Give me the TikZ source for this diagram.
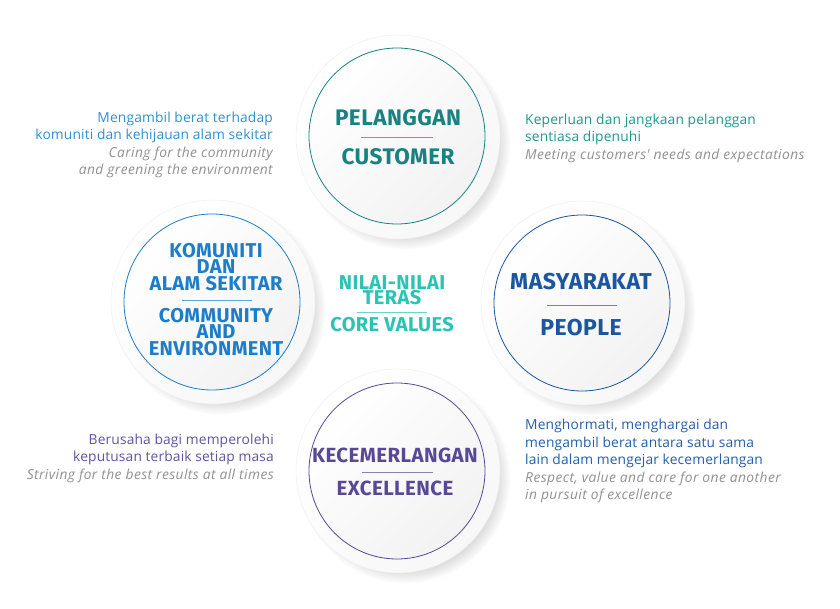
\documentclass[tikz,border=0pt]{standalone}
\usepackage{fontspec}
\usepackage{tikz}
\usetikzlibrary{positioning,shadows}
\newfontfamily\headfont[LetterSpace=2]{Fira Sans}
\newfontfamily\descfont[LetterSpace=1]{Open Sans}

\definecolor{pelC}{RGB}{24,130,130}
\definecolor{pelD}{RGB}{30,150,145}
\definecolor{komC}{RGB}{30,125,200}
\definecolor{komD}{RGB}{45,145,210}
\definecolor{masC}{RGB}{28,85,160}
\definecolor{masD}{RGB}{35,95,170}
\definecolor{kecC}{RGB}{88,72,150}
\definecolor{kecD}{RGB}{98,82,162}
\definecolor{coreC}{RGB}{45,195,180}
\definecolor{greyT}{RGB}{145,145,145}

\newcommand{\eng}[1]{\textcolor{greyT}{\itshape\addfontfeatures{LetterSpace=3}#1}}

\tikzset{
  disc/.style={circle, minimum size=204pt, draw=black!7, top color=white, bottom color=black!3,
    shading angle=45, circular drop shadow={shadow xshift=7pt, shadow yshift=-7pt,
    shadow scale=1.03, fill=black!45, opacity=0.35}},
  ring/.style={circle, minimum size=176pt, draw=#1, line width=0.8pt,
    top color=white, bottom color=black!5, shading angle=45},
  head/.style={text=#1, align=center, inner sep=0pt,
    font=\headfont\bfseries\fontsize{22.5}{16}\selectfont},
  desc/.style={text=#1, inner sep=0pt, font=\descfont\fontsize{13.8}{17.5}\selectfont}
}

\begin{document}
\begin{tikzpicture}[x=1pt, y=-1pt]
      \useasboundingbox[fill=white] (0,0) rectangle (840,609);

      % Kreise
      \node[disc] (pelO) at (398,137) {};
      \node[disc] (komO) at (213,302) {};
      \node[disc] (masO) at (583,303) {};
      \node[disc] (kecO) at (398,471) {};
      \node[ring=pelC] (pel) at (397,136) {};
      \node[ring=komC] (kom) at (212,302) {};
      \node[ring=masC] (mas) at (582,303) {};
      \node[ring=kecC] (kec) at (397,471) {};

      % Pelanggan
      \node[head=pelC] (pelA) at (398,118) {PELANGGAN};
      \draw[pelC!70, line width=0.6pt] (pel.center) ++(-36,1) -- ++(72,0);
      \node[head=pelC] (pelB) at (398,157) {CUSTOMER};

      % Komuniti
      \node[head=komC, font=\headfont\bfseries\fontsize{20}{16.5}\selectfont] (komA) at (216,267)
            {KOMUNITI\\DAN\\ALAM SEKITAR};
      \draw[komC!70, line width=0.6pt] (kom.center) ++(-30,-2) -- ++(70,0);
      \node[head=komC, font=\headfont\bfseries\fontsize{20}{16.5}\selectfont] (komB) at (216,332)
            {COMMUNITY\\AND\\ENVIRONMENT};

      % Masyarakat
      \node[head=masC, font=\headfont\bfseries\fontsize{23}{16}\selectfont] (masA) at (581,282) {MASYARAKAT};
      \draw[masC!70, line width=0.6pt] (mas.center) ++(-35,2) -- ++(70,0);
      \node[head=masC, font=\headfont\bfseries\fontsize{23}{16}\selectfont] (masB) at (581,328) {PEOPLE};

      % Kecemerlangan
      \node[head=kecC, font=\headfont\bfseries\fontsize{20.5}{16}\selectfont] (kecA) at (395,455) {KECEMERLANGAN};
      \draw[kecC!70, line width=0.6pt] (kec.center) ++(-35,1) -- ++(71,0);
      \node[head=kecC, font=\headfont\bfseries\fontsize{20.5}{16}\selectfont] (kecB) at (395,488) {EXCELLENCE};

      % Nilai-nilai teras
      \node[head=coreC, font=\headfont\bfseries\fontsize{20}{15.5}\selectfont] (coreA) at (392,290)
            {NILAI-NILAI\\TERAS};
      \draw[coreC!70, line width=0.6pt] (357,312) -- (427,312);
      \node[head=coreC, font=\headfont\bfseries\fontsize{20}{15.5}\selectfont] (coreB) at (392,325) {CORE VALUES};

      % Beschreibungen
      \node[desc=komD, align=right, anchor=east] (komTxt) at (273,145)
            {Mengambil berat terhadap\\komuniti dan kehijauan alam sekitar\\
             \eng{Caring for the community}\\\eng{and greening the environment}};
      \node[desc=pelD, align=left, anchor=west] (pelTxt) at (525,138)
            {Keperluan dan jangkaan pelanggan\\sentiasa dipenuhi\\
             \eng{Meeting customers' needs and expectations}};
      \node[desc=kecD, align=right, anchor=east] (kecTxt) at (274,458)
            {Berusaha bagi memperolehi\\keputusan terbaik setiap masa\\
             \eng{Striving for the best results at all times}};
      \node[desc=masD, align=left, anchor=west] (masTxt) at (525,461)
            {Menghormati, menghargai dan\\mengambil berat antara satu sama\\lain dalam mengejar kecemerlangan\\
             \eng{Respect, value and care for one another}\\\eng{in pursuit of excellence}};
\end{tikzpicture}
\end{document}
